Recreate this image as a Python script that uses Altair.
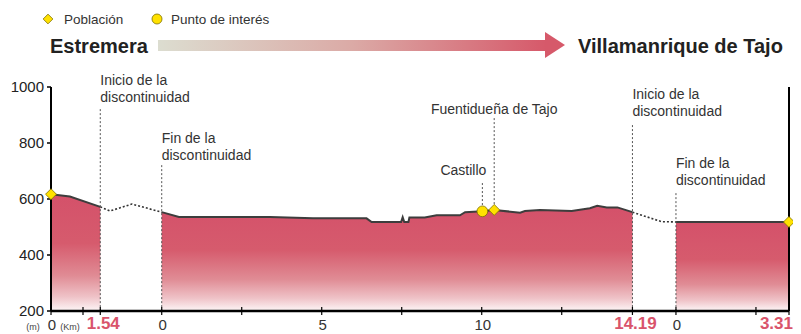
import altair as alt
import pandas as pd

# ---------------- data ----------------
# Segment start positions on the drawing axis (km-equivalents)
SEG_START = [0.0, 3.46, 19.53]
X_MAX = 23.0625

# Segment 1 (Estremera side), local km / elevation m
seg1_km = [0.0, 0.59, 1.54]
seg1_elev = [617, 609, 572]
# Segment 2
seg2_km = [0.0, 0.54, 3.38, 4.73, 6.40, 6.56, 7.48, 7.53, 7.58, 7.71, 7.74, 8.22,
           8.59, 9.32, 9.48, 10.02, 10.39, 11.20, 11.35, 11.82, 12.81, 13.38,
           13.61, 13.91, 14.24, 14.71]
seg2_elev = [553, 536, 536, 531, 531, 518, 518, 535, 518, 518, 534, 534,
             542, 542, 553, 556, 561, 551, 557, 561, 557, 567,
             576, 570, 570, 553]
# Segment 3
seg3_km = [0.0, 3.53]
seg3_elev = [518, 518]

# Discontinuities (drawing axis positions / elevation)
gap1_x = [1.54, 1.84, 2.53, 3.46]
gap1_elev = [572, 557, 582, 553]
gap2_x = [18.17, 19.08, 19.53]
gap2_elev = [553, 519, 518]

# Places
town_names = ["Estremera", "Fuentidueña de Tajo", "Villamanrique de Tajo"]
town_seg = [0, 1, 2]
town_km = [0.0, 10.39, 3.53]
town_elev = [617, 561, 518]
poi_names = ["Castillo"]
poi_seg = [1]
poi_km = [10.02]
poi_elev = [556]

# Axis labels
tick_pos = [0.0, 1.0, 1.54, 3.46, 5.96, 8.46, 10.96, 13.46, 15.96, 18.17, 19.53, 22.03, X_MAX]
km_labels = ["0", "0", "5", "10", "0"]
km_label_pos = [0.0, 3.46, 8.46, 13.46, 19.53]
end_labels = ["1.54", "14.19", "3.31"]
end_label_pos = [1.54, 18.17, X_MAX]
y_ticks = [200, 400, 600, 800, 1000]
BASE_ELEV = 200
TOP_ELEV = 1000

# ---------------- build tables ----------------
rows = []
for s, (kms, els) in enumerate([(seg1_km, seg1_elev), (seg2_km, seg2_elev), (seg3_km, seg3_elev)]):
    for i, (k, e) in enumerate(zip(kms, els)):
        rows.append({"x": SEG_START[s] + k, "elev": e, "base": BASE_ELEV, "seg": s, "o": i})
prof = pd.DataFrame(rows)

grows = []
for g, (xs_, es) in enumerate([(gap1_x, gap1_elev), (gap2_x, gap2_elev)]):
    for i, (x, e) in enumerate(zip(xs_, es)):
        grows.append({"x": x, "elev": e, "g": g, "o": i})
gaps = pd.DataFrame(grows)

towns = pd.DataFrame({"name": town_names,
                      "x": [SEG_START[s] + k for s, k in zip(town_seg, town_km)],
                      "elev": town_elev})
pois = pd.DataFrame({"name": poi_names,
                     "x": [SEG_START[s] + k for s, k in zip(poi_seg, poi_km)],
                     "elev": poi_elev})

FONT = "Liberation Sans"
TXT = "#333333"
RED = "#d9546b"
YEL = "#ffe100"
YEL_STROKE = "#7d7000"

xs = alt.Scale(domain=[0, X_MAX], nice=False, zero=False)
ys = alt.Scale(domain=[BASE_ELEV, TOP_ELEV], nice=False, zero=False)


def X(f="x"):
    return alt.X(f"{f}:Q", scale=xs, axis=None)


def Y(f="elev"):
    return alt.Y(f"{f}:Q", scale=ys, axis=None)


grad = alt.Gradient(gradient="linear",
                    stops=[alt.GradientStop(color="#d4516a", offset=0),
                           alt.GradientStop(color="#d65b6d", offset=0.42),
                           alt.GradientStop(color="#e08c95", offset=0.7),
                           alt.GradientStop(color="#efc3c8", offset=0.88),
                           alt.GradientStop(color="#fdf6f7", offset=1)],
                    x1=0, x2=0, y1=0, y2=1)

areas = [
    alt.Chart(prof[prof.seg == s]).mark_area(fill=grad, stroke=None).encode(
        x=X(), y=Y(), y2="base:Q")
    for s in range(3)
]
line = alt.Chart(prof).mark_line(color="#3d3d3d", strokeWidth=2).encode(
    x=X(), y=Y(), detail="seg:N", order="o:Q")
gapline = alt.Chart(gaps).mark_line(color="#333333", strokeWidth=1.6, strokeDash=[2, 2]).encode(
    x=X(), y=Y(), detail="g:N", order="o:Q")

# vertical dotted guide lines
guides = pd.DataFrame({
    "x": [1.54, 3.46, 18.17, 19.53, pois["x"][0], towns["x"][1]],
    "top": [921, 721, 864, 621, 657, 889],
    "bot": [200, 200, 200, 200, 556, 561],
})
guide = alt.Chart(guides).mark_rule(color="#555555", strokeWidth=1, strokeDash=[2, 2]).encode(
    x=X(), y=Y("top"), y2="bot:Q")

# frame: left axis, right edge and bottom axis
frame = alt.Chart(pd.DataFrame({"x": [0.0, X_MAX], "a": [BASE_ELEV] * 2, "b": [TOP_ELEV] * 2})).mark_rule(
    color="black", strokeWidth=2).encode(x=X(), y=Y("a"), y2="b:Q")
base = alt.Chart(pd.DataFrame({"a": [0.0], "b": [X_MAX], "y": [BASE_ELEV]})).mark_rule(
    color="black", strokeWidth=2.5).encode(x=X("a"), x2="b:Q", y=Y("y"))
ticks = alt.Chart(pd.DataFrame({"x": tick_pos})).mark_rule(color="black", strokeWidth=1.2).encode(
    x=X(), y=alt.value(220), y2=alt.value(228))

ytab = pd.DataFrame({"elev": y_ticks, "t": [str(v) for v in y_ticks]})
yticks = alt.Chart(ytab).mark_rule(color="black", strokeWidth=1.5).encode(
    x=alt.value(-4), x2=alt.value(0), y=Y())
ylabels = alt.Chart(ytab).mark_text(font=FONT, fontSize=15, color="#222222", align="right",
                                    baseline="middle").encode(
    x=alt.value(-7), y=Y(), text="t:N")

lab_norm = alt.Chart(pd.DataFrame({"x": km_label_pos, "t": km_labels})).mark_text(
    font=FONT, fontSize=15, color=TXT, baseline="alphabetic", align="center", dx=1).encode(
    x=X(), y=alt.value(243), text="t:N")
lab_red_c = alt.Chart(pd.DataFrame({"x": end_label_pos[:2], "t": end_labels[:2]})).mark_text(
    font=FONT, fontSize=17, fontWeight="bold", color=RED, baseline="alphabetic",
    align="center", dx=3).encode(x=X(), y=alt.value(242), text="t:N")
lab_red_r = alt.Chart(pd.DataFrame({"x": end_label_pos[2:], "t": end_labels[2:]})).mark_text(
    font=FONT, fontSize=17, fontWeight="bold", color=RED, baseline="alphabetic",
    align="right", dx=4).encode(x=X(), y=alt.value(242), text="t:N")

unit_df = pd.DataFrame({"t": ["(m)", "(Km)"], "px": [-18, 19]})
units = alt.Chart(unit_df).mark_text(font=FONT, fontSize=9, color="#444444",
                                    baseline="alphabetic", align="center").encode(
    x=alt.X("px:Q", scale=None), y=alt.value(243), text="t:N")

# markers
town_mk = alt.Chart(towns).mark_point(shape="diamond", filled=True, size=120, fill=YEL,
                                      stroke=YEL_STROKE, strokeWidth=0.8, opacity=1).encode(
    x=X(), y=Y())
poi_mk = alt.Chart(pois).mark_point(shape="circle", filled=True, size=115, fill=YEL,
                                    stroke=YEL_STROKE, strokeWidth=0.8, opacity=1).encode(
    x=X(), y=Y())

# annotations
ann = pd.DataFrame({
    "x": [1.54, 3.46, 18.17, 19.53],
    "t": ["Inicio de la\ndiscontinuidad", "Fin de la\ndiscontinuidad",
          "Inicio de la\ndiscontinuidad", "Fin de la\ndiscontinuidad"],
    "py": [-2, 56, 12, 81],
})
ann_txt = alt.Chart(ann).mark_text(font=FONT, fontSize=14, color=TXT, align="left",
                                   baseline="alphabetic", lineBreak="\n", lineHeight=17).encode(
    x=X(), y=alt.Y("py:Q", scale=None), text="t:N")
fuen_txt = alt.Chart(towns.iloc[[1]]).mark_text(font=FONT, fontSize=14, color=TXT, align="center",
                                                baseline="alphabetic").encode(
    x=X(), y=alt.value(27), text="name:N")
cast_txt = alt.Chart(pois).mark_text(font=FONT, fontSize=14, color=TXT, align="right",
                                     baseline="alphabetic", dx=4).encode(
    x=X(), y=alt.value(88), text="name:N")

# header: legend, endpoints and arrow
one = pd.DataFrame({"t": [""]})
leg_d = alt.Chart(one).mark_point(shape="diamond", filled=True, size=95, fill=YEL,
                                  stroke=YEL_STROKE, strokeWidth=0.8, opacity=1).encode(
    x=alt.value(-3), y=alt.value(-68))
leg_c = alt.Chart(one).mark_point(shape="circle", filled=True, size=100, fill=YEL,
                                  stroke=YEL_STROKE, strokeWidth=0.8, opacity=1).encode(
    x=alt.value(106), y=alt.value(-68))
leg_t = alt.Chart(pd.DataFrame({"t": ["Población", "Punto de interés"], "px": [13, 120]})).mark_text(
    font=FONT, fontSize=13.5, color=TXT, align="left", baseline="alphabetic").encode(
    x=alt.X("px:Q", scale=None), y=alt.value(-63), text="t:N")
ends = alt.Chart(pd.DataFrame({"t": [town_names[0], town_names[2]], "px": [-1, 527]})).mark_text(
    font=FONT, fontSize=20, fontWeight="bold", color="#222222", align="left",
    baseline="alphabetic").encode(x=alt.X("px:Q", scale=None), y=alt.value(-34), text="t:N")
bar_grad = alt.Gradient(gradient="linear",
                        stops=[alt.GradientStop(color="#dcddd0", offset=0),
                               alt.GradientStop(color="#dbaaa6", offset=0.5),
                               alt.GradientStop(color="#d6596a", offset=1)],
                        x1=0, x2=1, y1=0, y2=0)
arrow_bar = alt.Chart(one).mark_rect(color=bar_grad).encode(
    x=alt.value(107), x2=alt.value(495), y=alt.value(-47), y2=alt.value(-36))
arrow_head = alt.Chart(one).mark_point(shape="M-1,-1.3L1,0L-1,1.3Z", filled=True, size=400,
                                       color="#d6596a", opacity=1, strokeWidth=0).encode(
    x=alt.value(504), y=alt.value(-42))

chart = alt.layer(
    *areas, line, gapline, guide, base, ticks, frame, yticks, ylabels,
    lab_norm, lab_red_c, lab_red_r, units, ann_txt, fuen_txt, cast_txt,
    town_mk, poi_mk,
    leg_d, leg_c, leg_t, ends, arrow_bar, arrow_head,
).properties(
    width=738, height=224,
    autosize=alt.AutoSizeParams(type="none"),
    padding={"left": 43, "top": 79, "right": 4, "bottom": 23},
    background="white",
).configure_view(stroke=None)

chart.save("out.html", embed_options={"renderer": "svg", "actions": False})
